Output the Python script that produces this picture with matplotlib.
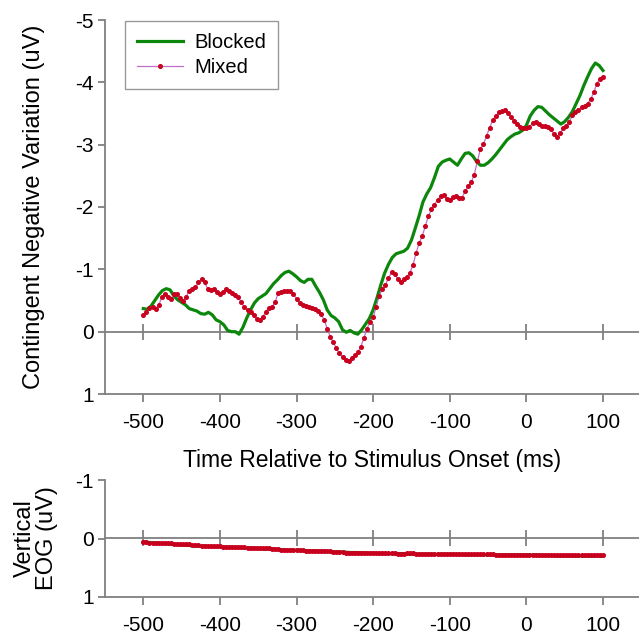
import numpy as np
import matplotlib
matplotlib.use("Agg")
import matplotlib.pyplot as plt

plt.rcParams['font.family'] = ['Liberation Sans', 'DejaVu Sans']
plt.rcParams['axes.unicode_minus'] = False

# ---------------- data ----------------
time_mixed = np.arange(-500, 101, 4)      # 4 ms samples
time_blocked = np.arange(-500, 101, 5)    # 5 ms readings
time_eog_blocked = np.arange(-500, 101, 10)

mixed_cnv = [
    -0.26, -0.31, -0.38, -0.40, -0.37, -0.42, -0.55, -0.61, -0.56, -0.53,
    -0.60, -0.61, -0.54, -0.50, -0.56, -0.66, -0.69, -0.71, -0.79, -0.85,
    -0.79, -0.69, -0.67, -0.68, -0.64, -0.60, -0.64, -0.68, -0.65, -0.62,
    -0.59, -0.55, -0.47, -0.39, -0.34, -0.31, -0.26, -0.21, -0.19, -0.24,
    -0.32, -0.38, -0.40, -0.47, -0.62, -0.64, -0.65, -0.65, -0.66, -0.61,
    -0.52, -0.46, -0.42, -0.41, -0.40, -0.38, -0.36, -0.33, -0.28, -0.19,
    -0.05, 0.08, 0.17, 0.27, 0.35, 0.40, 0.45, 0.47, 0.43, 0.38,
    0.33, 0.24, 0.10, -0.05, -0.16, -0.23, -0.40, -0.58, -0.68, -0.75,
    -0.86, -0.95, -0.93, -0.84, -0.80, -0.85, -0.88, -0.94, -1.07, -1.26,
    -1.42, -1.53, -1.69, -1.85, -1.96, -2.04, -2.11, -2.17, -2.19, -2.13,
    -2.12, -2.16, -2.17, -2.14, -2.15, -2.25, -2.34, -2.40, -2.52, -2.73,
    -2.93, -3.01, -3.14, -3.27, -3.39, -3.46, -3.52, -3.54, -3.55, -3.51,
    -3.45, -3.38, -3.33, -3.29, -3.26, -3.26, -3.29, -3.34, -3.37, -3.33,
    -3.30, -3.30, -3.29, -3.25, -3.17, -3.13, -3.19, -3.26, -3.30, -3.37,
    -3.47, -3.53, -3.56, -3.60, -3.62, -3.66, -3.73, -3.84, -3.98, -4.06,
    -4.09,
]

blocked_cnv = [
    -0.37, -0.36, -0.41, -0.50, -0.59, -0.66, -0.69, -0.67, -0.57, -0.51,
    -0.47, -0.43, -0.37, -0.35, -0.33, -0.29, -0.28, -0.31, -0.27, -0.19,
    -0.16, -0.11, -0.02, 0.00, 0.00, 0.04, -0.07, -0.22, -0.35, -0.46,
    -0.53, -0.57, -0.61, -0.69, -0.77, -0.83, -0.90, -0.95, -0.97, -0.93,
    -0.88, -0.82, -0.79, -0.84, -0.84, -0.73, -0.63, -0.51, -0.35, -0.26,
    -0.22, -0.16, -0.03, 0.01, -0.02, 0.02, 0.04, -0.03, -0.12, -0.21,
    -0.35, -0.54, -0.75, -0.94, -1.08, -1.19, -1.25, -1.27, -1.29, -1.34,
    -1.47, -1.66, -1.86, -2.08, -2.21, -2.31, -2.47, -2.65, -2.72, -2.75,
    -2.77, -2.72, -2.67, -2.77, -2.86, -2.87, -2.82, -2.73, -2.67, -2.67,
    -2.71, -2.77, -2.84, -2.92, -3.00, -3.08, -3.13, -3.17, -3.19, -3.23,
    -3.31, -3.46, -3.55, -3.61, -3.60, -3.54, -3.48, -3.43, -3.38, -3.33,
    -3.37, -3.44, -3.53, -3.66, -3.79, -3.95, -4.09, -4.22, -4.31, -4.27,
    -4.19,
]

mixed_eog = [
    0.06, 0.06, 0.07, 0.07, 0.07, 0.07, 0.08, 0.08, 0.08, 0.08,
    0.09, 0.09, 0.09, 0.10, 0.10, 0.10, 0.11, 0.11, 0.11, 0.12,
    0.12, 0.12, 0.13, 0.13, 0.13, 0.13, 0.14, 0.14, 0.14, 0.14,
    0.15, 0.15, 0.15, 0.15, 0.16, 0.16, 0.16, 0.16, 0.16, 0.17,
    0.17, 0.17, 0.18, 0.18, 0.18, 0.19, 0.19, 0.19, 0.19, 0.20,
    0.20, 0.20, 0.20, 0.21, 0.21, 0.22, 0.22, 0.21, 0.21, 0.22,
    0.22, 0.22, 0.23, 0.23, 0.23, 0.23, 0.24, 0.24, 0.24, 0.24,
    0.25, 0.25, 0.25, 0.25, 0.25, 0.25, 0.25, 0.24, 0.24, 0.24,
    0.25, 0.25, 0.25, 0.26, 0.26, 0.26, 0.25, 0.25, 0.25, 0.26,
    0.26, 0.26, 0.26, 0.26, 0.26, 0.26, 0.26, 0.26, 0.26, 0.27,
    0.27, 0.27, 0.27, 0.27, 0.27, 0.27, 0.27, 0.27, 0.27, 0.27,
    0.26, 0.26, 0.26, 0.27, 0.27, 0.28, 0.28, 0.28, 0.28, 0.28,
    0.28, 0.28, 0.28, 0.28, 0.28, 0.28, 0.28, 0.28, 0.28, 0.28,
    0.28, 0.28, 0.28, 0.28, 0.28, 0.28, 0.28, 0.28, 0.28, 0.29,
    0.29, 0.29, 0.29, 0.29, 0.29, 0.29, 0.29, 0.29, 0.29, 0.29,
    0.29,
]

blocked_eog = [
    0.06, 0.07, 0.08, 0.09, 0.10, 0.11, 0.12, 0.13, 0.13, 0.14,
    0.14, 0.15, 0.15, 0.16, 0.16, 0.17, 0.18, 0.18, 0.19, 0.20,
    0.20, 0.21, 0.21, 0.22, 0.22, 0.23, 0.23, 0.24, 0.24, 0.25,
    0.25, 0.26, 0.26, 0.26, 0.26, 0.27, 0.27, 0.27, 0.27, 0.27,
    0.27, 0.27, 0.28, 0.28, 0.28, 0.28, 0.28, 0.28, 0.28, 0.28,
    0.28, 0.28, 0.29, 0.29, 0.30, 0.30, 0.30, 0.30, 0.30, 0.30,
    0.30,
]

x_ticks = [-500, -400, -300, -200, -100, 0, 100]
cnv_ticks = [-5, -4, -3, -2, -1, 0, 1]
eog_ticks = [-1, 0, 1]
series_labels = ["Blocked", "Mixed"]

# ---------------- style ----------------
GREEN = "#0c870c"
PURPLE = "#c070c8"
RED = "#c8001e"
GRAY = "#808080"
FS = 15
LFS = 17

fig = plt.figure(figsize=(6.39, 6.34), dpi=100)
W, H = 639.0, 634.0
ax1 = fig.add_axes([105 / W, 1 - 394 / H, (W - 105) / W, (394 - 20) / H])
ax2 = fig.add_axes([105 / W, 1 - 597 / H, (W - 105) / W, (597 - 480) / H])


def style(ax, ylim, yticks):
    ax.set_xlim(-550, 147)
    ax.set_ylim(*ylim)
    ax.set_yticks(yticks)
    ax.set_xticks(x_ticks)
    for s in ["top", "right"]:
        ax.spines[s].set_visible(False)
    for s in ["left", "bottom"]:
        ax.spines[s].set_color(GRAY)
        ax.spines[s].set_linewidth(1.3)
    ax.tick_params(axis="both", colors=GRAY, labelcolor="black", width=1.3,
                   labelsize=FS)
    ax.tick_params(axis="y", length=5, pad=3)
    ax.tick_params(axis="x", length=6, pad=8)
    loc = (0 - ylim[0]) / (ylim[1] - ylim[0])
    sec = ax.secondary_xaxis(loc)
    sec.set_xticks(x_ticks)
    sec.tick_params(direction="inout", length=11, width=1.3, colors=GRAY,
                    labelbottom=False, labeltop=False)
    for sp in sec.spines.values():
        sp.set_color(GRAY)
        sp.set_linewidth(1.3)


style(ax1, (1, -5), cnv_ticks)
style(ax2, (1, -1), eog_ticks)

ax1.plot(time_blocked, blocked_cnv, color=GREEN, lw=2.3, label=series_labels[0],
         zorder=3)
ax1.plot(time_mixed, mixed_cnv, color=PURPLE, lw=0.9, marker="o", ms=2.6,
         mfc=RED, mec=RED, label=series_labels[1], zorder=4)

ax2.plot(time_eog_blocked, blocked_eog, color=GREEN, lw=2.3, zorder=3)
ax2.plot(time_mixed, mixed_eog, color=PURPLE, lw=0.9, marker="o", ms=2.6,
         mfc=RED, mec=RED, zorder=4)

ax1.set_xlabel("Time Relative to Stimulus Onset (ms)", fontsize=LFS - 0.5,
               labelpad=12)
ax1.set_ylabel("Contingent Negative Variation (uV)", fontsize=LFS)
ax1.yaxis.set_label_coords((45 - 105) / 534, 0.5)
ax2.set_ylabel("Vertical\nEOG (uV)", fontsize=LFS, linespacing=1.0)
ax2.yaxis.set_label_coords((58 - 105) / 534, 0.5)

leg = ax1.legend(loc="upper left", bbox_to_anchor=(125 / W, 1 - 21 / H),
                 bbox_transform=fig.transFigure, borderaxespad=0,
                 fontsize=14.5, frameon=True, fancybox=False, handlelength=2.3,
                 numpoints=1, borderpad=0.6, labelspacing=0.3,
                 handletextpad=0.55)
leg.get_frame().set_edgecolor(GRAY)
leg.get_frame().set_linewidth(1.0)

fig.savefig("out.png", dpi=100)
